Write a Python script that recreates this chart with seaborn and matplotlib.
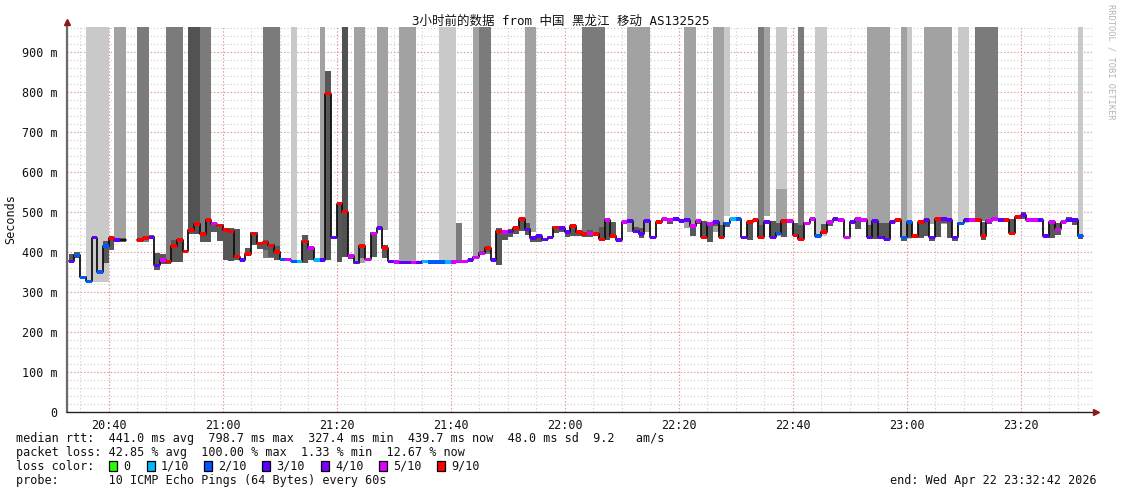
import numpy as np
import pandas as pd
import matplotlib
matplotlib.use("Agg")
import matplotlib.pyplot as plt
import seaborn as sns
from matplotlib.ticker import FixedLocator, FuncFormatter
from matplotlib.patches import Rectangle

# ---------------- data (one value per 60 s step, starting 20:33) ----------------
nan = np.nan
median_ms = [377,392,337,327,436,350,415,435,430,430,
             nan,nan,430,435,437,367,380,376,415,430,
             402,455,470,445,480,471,467,455,452,388,
             380,395,447,422,424,417,400,382,381,377,
             377,427,410,380,380,795,437,520,500,390,
             373,415,382,447,460,410,377,375,373,373,
             373,373,377,375,375,375,375,375,377,377,
             380,387,397,410,380,452,450,452,460,482,
             457,435,440,432,437,462,460,450,465,450,
             445,447,445,432,480,440,430,475,477,452,
             445,477,437,475,482,480,482,477,480,465,
             477,437,470,475,437,472,482,482,437,475,
             480,437,475,437,447,477,477,442,432,472,
             482,440,450,475,482,480,437,475,482,480,
             437,477,437,432,475,480,437,475,440,475,
             480,437,482,482,480,437,472,480,480,480,
             440,477,482,480,480,447,487,492,480,480,
             480,440,475,457,475,480,480,440]

# loss level in tenths (-1 = no colour mark)
loss_tenths = [3,2,2,2,3,2,2,9,3,-1,
               -1,-1,9,9,3,3,5,9,9,9,
               9,9,9,9,9,5,9,9,9,9,
               3,9,9,9,9,9,9,2,5,2,
               1,9,5,1,3,9,3,9,9,5,
               3,9,5,5,3,9,3,5,3,3,
               5,3,1,2,2,2,1,5,5,5,
               3,5,5,9,3,9,5,3,9,9,
               3,3,3,3,3,9,3,3,9,9,
               9,5,9,9,5,9,3,5,3,3,
               3,3,3,9,5,5,3,3,3,5,
               5,9,5,3,9,2,1,2,3,9,
               9,9,3,3,2,9,5,9,9,5,
               5,2,9,5,3,5,5,3,5,5,
               3,3,3,3,3,9,2,2,9,9,
               3,3,9,3,3,3,2,3,5,9,
               9,5,5,3,9,9,9,3,5,5,
               3,3,5,5,5,3,3,2]

# smoke spread below / above the median (ms)
smoke_dn = [5,7,2,2,2,5,43,30,5,5,
            0,0,3,3,3,12,10,5,40,55,
            3,10,15,20,55,20,40,75,75,8,
            5,5,30,15,20,30,20,3,3,3,
            3,55,30,3,5,415,3,145,5,8,
            3,30,3,60,3,25,3,3,3,3,
            3,3,3,3,3,3,3,3,3,3,
            3,3,5,10,3,85,20,15,15,30,
            15,10,15,5,5,15,10,12,25,10,
            8,10,5,5,50,5,3,5,3,5,
            10,3,5,3,3,10,3,3,3,25,
            8,5,45,10,5,10,5,3,3,45,
            5,3,5,3,3,40,3,5,5,5,
            3,5,5,10,5,3,3,5,25,5,
            5,45,5,5,5,3,10,40,3,40,
            40,10,45,10,45,10,3,3,3,3,
            10,8,3,3,3,3,5,10,3,3,
            3,5,40,15,5,3,12,8]
smoke_up = [18,8,2,2,2,3,12,5,5,5,
            0,0,3,3,5,30,15,5,15,5,
            3,5,8,5,5,3,3,5,8,70,
            5,15,3,3,5,3,15,3,3,3,
            3,15,5,3,3,58,3,5,3,3,
            3,5,3,3,3,8,3,3,3,3,
            3,3,3,3,3,3,3,3,3,3,
            3,3,5,5,3,8,3,5,3,3,
            15,3,3,3,3,3,3,3,3,3,
            3,8,3,30,5,35,3,3,3,10,
            15,3,3,3,3,3,3,3,3,5,
            3,40,3,3,30,3,3,3,3,3,
            3,30,5,40,25,3,3,30,35,3,
            3,3,20,3,3,3,3,3,5,3,
            30,3,35,40,3,3,3,5,3,3,
            3,3,3,3,3,3,3,3,3,3,
            35,5,5,3,3,35,3,8,3,3,
            3,3,3,15,5,8,3,3]

# tall smoke columns (pings far above the visible range): first step, last step, lower edge (ms), shade
tall_first = [3, 8, 12, 17, 21, 23, 34, 39, 44, 48, 50, 54, 58, 65, 71, 72, 80, 90, 98, 108,
              113, 115, 121, 122, 124, 128, 131, 140, 146, 147, 150, 156, 159, 177]
tall_last  = [6, 9, 13, 19, 22, 24, 36, 39, 44, 48, 51, 55, 60, 67, 71, 73, 81, 93, 101, 109,
              114, 115, 121, 122, 125, 128, 132, 143, 146, 147, 154, 157, 162, 177]
tall_low   = [326, 425, 425, 376, 445, 430, 385, 377, 378, 388, 372, 455, 372, 372, 385, 395, 450, 440, 450, 460,
              450, 490, 440, 490, 440, 440, 440, 435, 432, 432, 470, 472, 478, 435]
tall_shade = ["L","M","D","D","K","D","D","L","M","K","M","M","M","L","M","D","M","D","M","M",
              "M","L","D","M","L","D","L","M","M","L","M","L","D","L"]

# partial smoke columns: first step, last step, low (ms), high (ms), shade
part_first = [68, 124]
part_last  = [68, 125]
part_low   = [375, 440]
part_high  = [472, 558]
part_shade = ["D", "M"]

loss_labels = ["0", "1/10", "2/10", "3/10", "4/10", "5/10", "9/10"]
loss_levels = [0, 1, 2, 3, 4, 5, 9]
loss_colors = ["#26ff00", "#00b8ff", "#0059ff", "#5e00ff", "#7e00ff", "#dd00ff", "#ff0000"]

title = "3小时前的数据 from 中国 黑龙江 移动 AS132525"
stats_rtt = "median rtt:  441.0 ms avg  798.7 ms max  327.4 ms min  439.7 ms now  48.0 ms sd  9.2   am/s"
stats_loss = "packet loss: 42.85 % avg  100.00 % max  1.33 % min  12.67 % now"
probe_txt = "probe:       10 ICMP Echo Pings (64 Bytes) every 60s"
end_txt = "end: Wed Apr 22 23:32:42 2026"

start = pd.Timestamp("2026-04-22 20:32:42")
first_step = pd.Timestamp("2026-04-22 20:33:00")
span_min = 180.0

# ---------------- build frame ----------------
n = len(median_ms)
off = (first_step - start).total_seconds() / 60.0
df = pd.DataFrame({
    "x": off + np.arange(n),
    "median": median_ms,
    "loss": loss_tenths,
    "dn": smoke_dn,
    "up": smoke_up,
})
df["lo"] = df["median"] - df["dn"]
df["hi"] = df["median"] + df["up"]

# ---------------- figure ----------------
sns.set_theme(style="white")
plt.rcParams["font.family"] = ["DejaVu Sans Mono", "Noto Sans CJK SC"]

W, H = 1121, 494
fig = plt.figure(figsize=(W / 100, H / 100), dpi=100)
fig.patch.set_facecolor("white")
L, R, T, B = 67, 1093, 27, 412
ax = fig.add_axes([L / W, 1 - B / H, (R - L) / W, (B - T) / H])
ax.set_facecolor("white")
YTOP = 962
ax.set_xlim(0, span_min)
ax.set_ylim(0, YTOP)

# grid
minor_x = np.arange(2.3, span_min, 5)
major_x = np.arange(7.3, span_min, 20)
for xv in minor_x:
    ax.axvline(xv, color="#cfcfcf", lw=0.8, ls=(0, (1, 2)), zorder=0)
for yv in np.arange(20, YTOP, 20):
    ax.axhline(yv, color="#cfcfcf", lw=0.8, ls=(0, (1, 2)), zorder=0)
for xv in major_x:
    ax.axvline(xv, color="#f08f8f", lw=0.8, ls=(0, (1, 2)), zorder=0.5)
for yv in np.arange(100, YTOP, 100):
    ax.axhline(yv, color="#f08f8f", lw=0.8, ls=(0, (1, 2)), zorder=0.5)

# tall columns
shade_map = {"L": "#c9c9c9", "M": "#a2a2a2", "D": "#7b7b7b", "K": "#525252"}
for a, b, lo, sh in zip(tall_first, tall_last, tall_low, tall_shade):
    xs = df["x"].iloc[a:b + 1].to_numpy()
    ax.bar(xs, YTOP + 10 - lo, bottom=lo, width=1.0, align="edge",
           color=shade_map[sh], linewidth=0, zorder=1)
for a, b, lo, hi, sh in zip(part_first, part_last, part_low, part_high, part_shade):
    xs = df["x"].iloc[a:b + 1].to_numpy()
    ax.bar(xs, hi - lo, bottom=lo, width=1.0, align="edge",
           color=shade_map[sh], linewidth=0, zorder=1.5)

# smoke around the median
valid = df.dropna(subset=["median"])
ax.bar(valid["x"], valid["hi"] - valid["lo"], bottom=valid["lo"], width=1.0,
       align="edge", color="#575757", linewidth=0, zorder=2)

# median step line
xs = np.append(df["x"].to_numpy(), df["x"].iloc[-1] + 1)
ys = np.append(df["median"].to_numpy(), df["median"].iloc[-1])
ax.plot(xs, ys, drawstyle="steps-post", color="#111111", lw=1.3, zorder=3)

# loss-coloured marks
cmap = dict(zip(loss_levels, loss_colors))
marked = valid[valid["loss"] >= 0]
ax.bar(marked["x"], 8.0, bottom=marked["median"] - 4.0, width=1.0, align="edge",
       color=[cmap[int(v)] for v in marked["loss"]], linewidth=0, zorder=4)

# axes styling
for s in ["top", "right"]:
    ax.spines[s].set_visible(False)
ax.spines["left"].set_color("#6a6a6a")
ax.spines["left"].set_linewidth(1.6)
ax.spines["bottom"].set_color("#222222")
ax.spines["bottom"].set_linewidth(1.0)
ax.plot([0], [YTOP + 12], marker="^", color="#8b1a1a", ms=4, clip_on=False, zorder=6)
ax.plot([span_min + 0.6], [0], marker=">", color="#8b1a1a", ms=4, clip_on=False, zorder=6)
ax.plot([0, 0], [YTOP, YTOP + 10], color="#6a6a6a", lw=1.6, clip_on=False)

ax.xaxis.set_major_locator(FixedLocator(major_x))
ax.xaxis.set_major_formatter(FuncFormatter(
    lambda v, p: (start + pd.Timedelta(minutes=v)).round("min").strftime("%H:%M")))
ax.yaxis.set_major_locator(FixedLocator(np.arange(0, 901, 100)))
ax.yaxis.set_major_formatter(FuncFormatter(lambda v, p: "0" if v == 0 else f"{int(v)} m"))
ax.tick_params(axis="both", which="major", length=2, width=0.8, color="#555555",
               labelsize=8.5, labelcolor="#111111")
ax.tick_params(axis="x", pad=3)
ax.tick_params(axis="y", pad=5)
ax.grid(False)

# ---------------- texts ----------------
def fx(px):
    return px / W

def fy(py):
    return 1 - py / H

fig.text(fx(561), fy(21), title, ha="center", va="center", fontsize=9, color="#111111")
fig.text(fx(11), fy(219), "Seconds", rotation=90, ha="center", va="center", fontsize=8.5, color="#111111")
fig.text(fx(1111), fy(4), "RRDTOOL / TOBI OETIKER", rotation=-90, ha="center", va="top",
         fontsize=6.3, color="#b4b4b4")

fig.text(fx(16), fy(438), stats_rtt, ha="left", va="center", fontsize=8.5, color="#111111")
fig.text(fx(16), fy(452), stats_loss, ha="left", va="center", fontsize=8.5, color="#111111")
fig.text(fx(16), fy(466), "loss color:", ha="left", va="center", fontsize=8.5, color="#111111")
box_x = [109, 147, 204, 262, 321, 379, 437]
for bx, lab, col in zip(box_x, loss_labels, loss_colors):
    fig.patches.append(Rectangle((fx(bx), fy(471)), 8 / W, 10 / H, transform=fig.transFigure,
                                 facecolor=col, edgecolor="black", lw=0.9))
    fig.text(fx(bx + 14), fy(466), lab, ha="left", va="center", fontsize=8.5, color="#111111")
fig.text(fx(16), fy(480), probe_txt, ha="left", va="center", fontsize=8.5, color="#111111")
fig.text(fx(1097), fy(480), end_txt, ha="right", va="center", fontsize=8.5, color="#111111")

fig.savefig("out.png", dpi=100, facecolor="white")
